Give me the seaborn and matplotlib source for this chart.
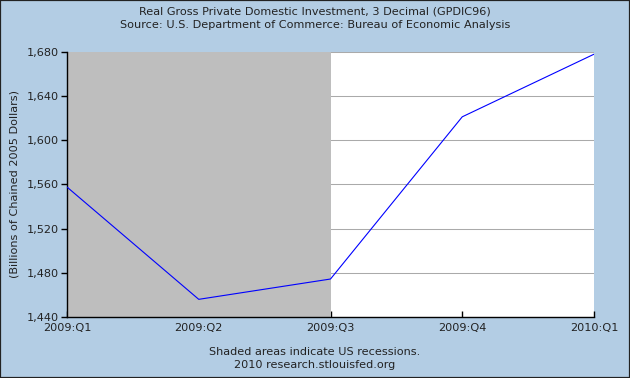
import matplotlib
matplotlib.use("Agg")
import matplotlib.pyplot as plt
import seaborn as sns
import pandas as pd
from matplotlib.patches import Rectangle

quarters = ["2009:Q1", "2009:Q2", "2009:Q3", "2009:Q4", "2010:Q1"]
values = [1557.7, 1456.0, 1474.4, 1621.3, 1678.0]
yticks = [1440, 1480, 1520, 1560, 1600, 1640, 1680]
recession_start = 0
recession_end = 2

sns.set_theme(style="white")
plt.rcParams['font.family'] = ['DejaVu Sans']

bg = "#B3CDE4"
fs = 8.1
fig = plt.figure(figsize=(6.3, 3.78), dpi=100, facecolor=bg)
ax = fig.add_axes([67/630, 1-317/378, (594-67)/630, (317-52)/378])
ax.set_facecolor("white")

df = pd.DataFrame({"x": range(len(quarters)), "value": values})
ax.set_axisbelow(True)
ax.yaxis.grid(True, color="#AAAAAA", linewidth=0.75, zorder=0)
ax.axvspan(recession_start, recession_end, color="#BEBEBE", zorder=1, lw=0)
sns.lineplot(data=df, x="x", y="value", ax=ax, color="#0000FF", linewidth=0.8, zorder=3)

ax.set_xlim(0, len(quarters) - 1)
ax.set_ylim(1440, 1680)
ax.set_xticks(range(len(quarters)))
ax.set_xticklabels(quarters)
ax.set_yticks(yticks)
ax.set_yticklabels([f"{v:,}" for v in yticks])
ax.set_xlabel("")
ax.set_ylabel("(Billions of Chained 2005 Dollars)", fontsize=fs, color="#222222", labelpad=5)

for s in ["top", "right"]:
    ax.spines[s].set_visible(False)
for s in ["left", "bottom"]:
    ax.spines[s].set_color("black")
    ax.spines[s].set_linewidth(1)
ax.tick_params(axis="y", direction="out", length=4, width=1, color="black", labelsize=fs, labelcolor="#222222", pad=2, left=True)
ax.tick_params(axis="x", direction="in", length=4, width=1, color="black", labelsize=fs, labelcolor="#222222", pad=4, bottom=True)

fig.text(0.5, 1-12/378, "Real Gross Private Domestic Investment, 3 Decimal (GPDIC96)", ha="center", va="center", fontsize=fs, color="#222222")
fig.text(0.5, 1-25.5/378, "Source: U.S. Department of Commerce: Bureau of Economic Analysis", ha="center", va="center", fontsize=fs, color="#222222")
fig.text(0.5, 1-352/378, "Shaded areas indicate US recessions.", ha="center", va="center", fontsize=fs, color="#222222")
fig.text(0.5, 1-365/378, "2010 research.stlouisfed.org", ha="center", va="center", fontsize=fs, color="#222222")

fig.patches.append(Rectangle((0, 0), 1, 1, transform=fig.transFigure, fill=False, edgecolor="#222222", linewidth=1.6, figure=fig))

fig.savefig("out.png", dpi=100, facecolor=bg)
